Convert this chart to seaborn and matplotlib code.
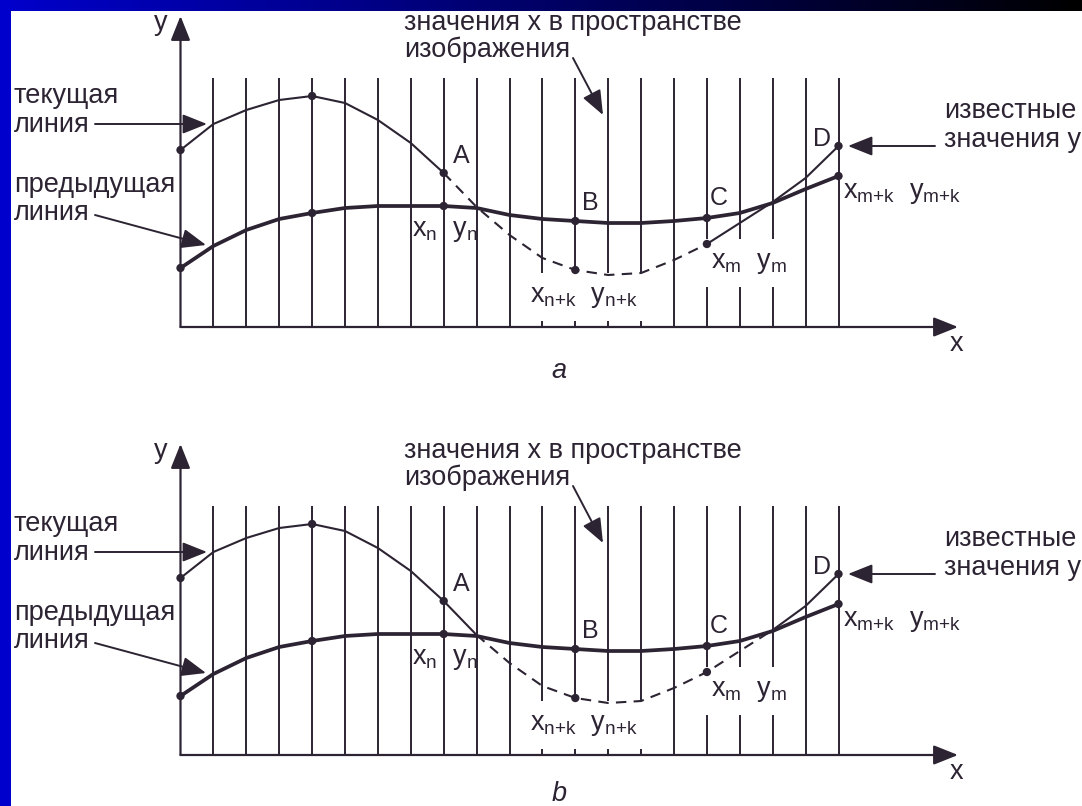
import numpy as np
import pandas as pd
import matplotlib
matplotlib.use("Agg")
import matplotlib.pyplot as plt
import seaborn as sns
from matplotlib.patches import Rectangle
from matplotlib.colors import LinearSegmentedColormap

# ---------------- data ----------------
# x positions = columns of image space (vertical grid lines)
columns = list(range(21))
# heights above the x axis (arbitrary units) of the current (thin) line
current_line = [177, 203, 217, 227, 231, 224, 207, 184, 154, 120, 92,
                69, 57, 52, 54, 67, 83, 104, 125, 149, 181]
# heights of the previous (thick) line
previous_line = [59, 81, 97, 108, 114, 119, 121, 121, 121, 119, 112,
                 108, 106, 104, 104, 106, 109, 114, 124, 138, 151]
# columns where y is known (dots)
known_columns = [0, 4, 8, 12, 16, 20]
# dashed part of the current line: panel a (A .. xm), panel b (crossing .. crossing)
dashed_a = (8, 16)
dashed_b = (9, 18)

point_labels = ["A", "B", "C", "D"]
panel_captions = ["a", "b"]

# ---------------- style ----------------
sns.set_theme(style="white")
plt.rcParams["font.family"] = ["Liberation Sans", "DejaVu Sans"]
plt.rcParams["mathtext.fontset"] = "custom"
plt.rcParams["mathtext.rm"] = "Liberation Sans"
plt.rcParams["mathtext.it"] = "Liberation Sans:italic"
plt.rcParams["mathtext.default"] = "regular"

INK = "#2d2433"
FS = 19.5

W, H = 1082, 806
fig = plt.figure(figsize=(W / 100, H / 100), dpi=100)
fig.patch.set_facecolor("white")

X_ORIGIN, COL_W = 180.5, 32.9   # pixel position of column 0 and column width


def P(px, py):
    """panel-a pixel layout position -> data coordinates"""
    return ((px - X_ORIGIN) / COL_W, 327 - py)


df = pd.DataFrame({"col": columns, "cur": current_line, "prev": previous_line})
HEAD = "-|>,head_length=0.75,head_width=0.3"


def draw_panel(ax, dashed, ylim, caption, caption_py):
    # grid of image-space columns
    ax.vlines(columns[1:], 0, 249, color=INK, lw=1.4, zorder=1)
    # axes with arrows
    for tip in [(0, 311), P(958, 327)]:
        ax.annotate("", xy=tip, xytext=(0, 0),
                    arrowprops=dict(arrowstyle=HEAD, color=INK, lw=1.6,
                                    mutation_scale=20, shrinkA=0, shrinkB=0),
                    zorder=2)

    s, e = dashed
    sns.lineplot(data=df[df.col <= s], x="col", y="cur", ax=ax, color=INK,
                 lw=1.5, zorder=4, sort=True)
    sns.lineplot(data=df[(df.col >= s) & (df.col <= e)], x="col", y="cur", ax=ax,
                 color=INK, lw=1.5, linestyle=(0, (5, 3.5)), zorder=4, sort=True)
    sns.lineplot(data=df[df.col >= e], x="col", y="cur", ax=ax, color=INK,
                 lw=1.5, zorder=4, sort=True)
    sns.lineplot(data=df, x="col", y="prev", ax=ax, color=INK, lw=2.7,
                 zorder=4, sort=True)
    kd = df[df.col.isin(known_columns)]
    sns.scatterplot(data=kd, x="col", y="cur", ax=ax, color=INK, s=36,
                    edgecolor="none", zorder=5)
    sns.scatterplot(data=kd, x="col", y="prev", ax=ax, color=INK, s=36,
                    edgecolor="none", zorder=5)

    def T(s_, px, py, ha="left", va="baseline", size=FS, box=False, **kw):
        bb = dict(boxstyle="square,pad=0.42", fc="white", ec="none") if box else None
        ax.text(*P(px, py), s_, ha=ha, va=va, fontsize=size, color=INK,
                bbox=bb, zorder=3 if box else 6, **kw)

    T("y", 161, 23, ha="center", va="center")
    T("x", 956, 344, ha="center", va="center")
    T("значения х в пространстве", 404, 30)
    T("изображения", 404, 57)
    T("текущая", 14, 103)
    T("линия", 14, 132)
    T("предыдущая", 14, 192)
    T("линия", 14, 220)
    T("известные", 944, 118)
    T("значения у", 944, 147)
    for lab, (px, py) in zip(point_labels, [(461, 156), (590, 203), (719, 198), (822, 139)]):
        T(lab, px, py, ha="center", va="center", size=18)
    T(r"$x_n\ \ y_n$", 445, 231, ha="center", va="center")
    T(r"$x_{n{+}k}\ \ y_{n{+}k}$", 584, 297, ha="center", va="center", box=True)
    T(r"$x_m\ \ y_m$", 749, 263, ha="center", va="center", box=True)
    T(r"$x_{m{+}k}\ \ y_{m{+}k}$", 843, 193, ha="left", va="center")
    T(caption, 559, caption_py, ha="center", va="center", style="italic")

    for (x0, y0), (x1, y1) in [((95, 124), (207, 124)),
                               ((95, 215), (206, 245)),
                               ((573, 58), (603, 115)),
                               ((935, 146), (848, 146))]:
        ax.annotate("", xy=P(x1, y1), xytext=P(x0, y0),
                    arrowprops=dict(arrowstyle=HEAD, color=INK, lw=1.4,
                                    mutation_scale=20, shrinkA=0, shrinkB=0),
                    zorder=6)

    ax.set_xlim(-X_ORIGIN / COL_W, (W - X_ORIGIN) / COL_W)
    ax.set_ylim(*ylim)
    ax.set_axis_off()


ax_a = fig.add_axes([0, 0.5, 1, 0.5])
draw_panel(ax_a, dashed_a, (327 - 403, 327), panel_captions[0], 371)
ax_b = fig.add_axes([0, 0, 1, 0.5])
draw_panel(ax_b, dashed_b, (755 - 806, 755 - 403), panel_captions[1], 366)

# slide frame: gradient bar at top, blue stripe on the left
bar = fig.add_axes([0, 1 - 11 / H, 1, 11 / H])
cmap = LinearSegmentedColormap.from_list("bar", ["#0000cc", "#000066", "#000000"])
bar.imshow(np.linspace(0, 1, 256)[None, :], aspect="auto", cmap=cmap)
bar.set_axis_off()
fig.add_artist(Rectangle((0, 0), 11 / W, 1, transform=fig.transFigure,
                         facecolor="#0000cc", edgecolor="none", zorder=10))

fig.savefig("out.png", dpi=100)
